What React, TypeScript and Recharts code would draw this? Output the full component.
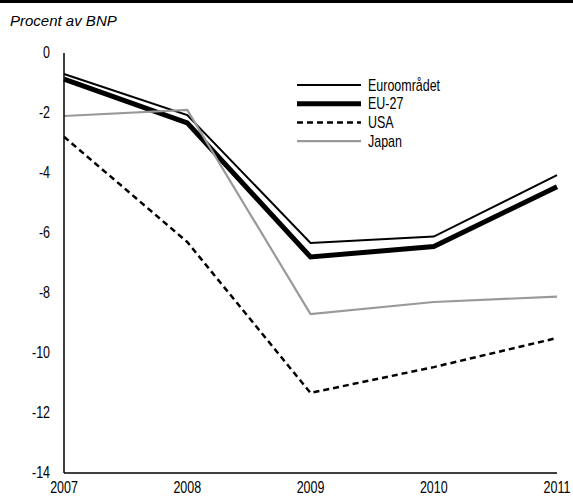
import React from "react";
import { LineChart, Line, XAxis, YAxis } from "recharts";

const years = ["2007", "2008", "2009", "2010", "2011"];
const euroomradet = [-0.7, -2.07, -6.33, -6.12, -4.07];
const eu27 = [-0.87, -2.33, -6.8, -6.45, -4.46];
const usa = [-2.79, -6.3, -11.33, -10.47, -9.5];
const japan = [-2.1, -1.9, -8.7, -8.3, -8.12];
const yTicks = [0, -2, -4, -6, -8, -10, -12, -14];

const data = years.map((year, i) => ({
  year,
  euro: euroomradet[i],
  eu27: eu27[i],
  usa: usa[i],
  japan: japan[i],
}));

const series = [
  { key: "euro", name: "Euroområdet", color: "#000000", width: 2, dash: undefined },
  { key: "eu27", name: "EU-27", color: "#000000", width: 5, dash: undefined },
  { key: "usa", name: "USA", color: "#000000", width: 2.5, dash: "6 4" },
  { key: "japan", name: "Japan", color: "#999999", width: 2.2, dash: undefined },
];

const font = '"Liberation Sans", Arial, sans-serif';

// condensed-looking text: squeeze a regular sans horizontally
const NarrowText = ({ x, y, anchor, children }) => (
  <text
    transform={`translate(${x},${y}) scale(0.78,1)`}
    textAnchor={anchor}
    fontFamily={font}
    fontSize={16}
    fill="#000"
  >
    {children}
  </text>
);

const XTick = ({ x, y, payload }) => (
  <NarrowText x={x} y={y + 12} anchor="middle">
    {payload.value}
  </NarrowText>
);

const YTick = ({ x, y, payload }) => (
  <NarrowText x={x} y={y + 5} anchor="end">
    {payload.value}
  </NarrowText>
);

const CustomLegend = () => {
  return (
    <svg width={200} height={80} style={{ position: "absolute", left: 297, top: 76 }}>
      {series.map((s, i) => (
        <g key={s.key}>
          <line
            x1={0}
            x2={64}
            y1={9 + i * 18.7}
            y2={9 + i * 18.7}
            stroke={s.color}
            strokeWidth={s.width}
            strokeDasharray={s.dash}
          />
          <NarrowText x={71} y={9 + i * 18.7 + 5.5} anchor="start">
            {s.name}
          </NarrowText>
        </g>
      ))}
    </svg>
  );
};

const App = () => {
  return (
    <div
      style={{
        position: "absolute",
        left: 0,
        top: 0,
        width: 573,
        height: 497,
        background: "#fff",
      }}
    >
      {/* top rule */}
      <div style={{ position: "absolute", left: 0, top: 0, width: 573, height: 3, background: "#000" }} />
      <div
        style={{
          position: "absolute",
          left: 10,
          top: 12,
          fontFamily: font,
          fontStyle: "italic",
          fontSize: 15,
          color: "#000",
        }}
      >
        Procent av BNP
      </div>
      <LineChart
        width={573}
        height={497}
        data={data}
        margin={{ top: 53, right: 16, bottom: 0, left: 0 }}
      >
        <XAxis
          dataKey="year"
          interval={0}
          axisLine={{ stroke: "#000", strokeWidth: 1.5 }}
          tickLine={false}
          tickSize={0}
          tickMargin={8}
          height={24}
          tick={XTick}
        />
        <XAxis
          xAxisId="top"
          dataKey="year"
          orientation="top"
          interval={0}
          height={0}
          axisLine={{ stroke: "#000", strokeWidth: 1.5 }}
          tickLine={{ stroke: "#000" }}
          tickSize={4}
          tick={false}
        />
        <XAxis
          xAxisId="top2"
          dataKey="year"
          orientation="top"
          mirror
          interval={0}
          height={0}
          axisLine={false}
          tickLine={{ stroke: "#000" }}
          tickSize={4}
          tick={false}
        />
        <YAxis
          domain={[-14, 0]}
          ticks={yTicks}
          interval={0}
          width={64}
          axisLine={{ stroke: "#000", strokeWidth: 1.5 }}
          tickLine={false}
          tickSize={0}
          tickMargin={14}
          tick={YTick}
        />
        <YAxis
          yAxisId="inner"
          domain={[-14, 0]}
          ticks={yTicks}
          interval={0}
          mirror
          width={0}
          axisLine={false}
          tickLine={{ stroke: "#000" }}
          tickSize={5}
          tick={false}
        />
        <YAxis
          yAxisId="right"
          orientation="right"
          domain={[-14, 0]}
          width={0}
          axisLine={{ stroke: "#000", strokeWidth: 1.5 }}
          tickLine={false}
          tick={false}
        />
        {series.map((s) => (
          <Line
            key={s.key}
            dataKey={s.key}
            name={s.name}
            stroke={s.color}
            strokeWidth={s.width}
            strokeDasharray={s.dash}
            dot={false}
            activeDot={false}
            isAnimationActive={false}
          />
        ))}
      </LineChart>
      <CustomLegend />
    </div>
  );
};

export default App;
